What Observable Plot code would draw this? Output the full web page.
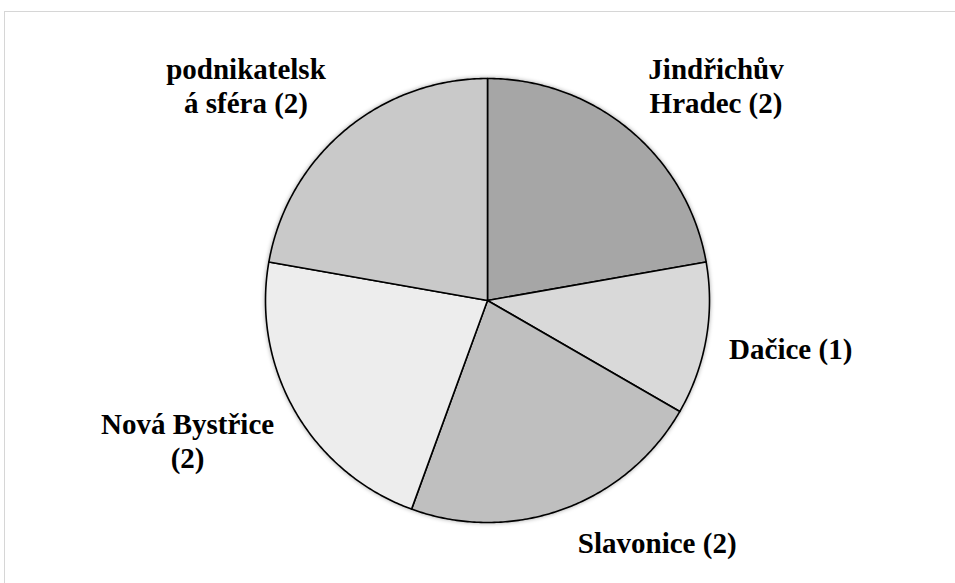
<!DOCTYPE html>
<html>
<head>
<meta charset="utf-8">
<script src="https://cdn.jsdelivr.net/npm/d3@7"></script>
<script src="https://cdn.jsdelivr.net/npm/@observablehq/plot@0.6"></script>
<style>
  html, body { margin: 0; padding: 0; background: #fff; overflow: hidden; }
  #wrap { position: relative; width: 955px; height: 583px; }
  #frame { position: absolute; left: 4px; top: 11px; width: 980px; height: 600px;
           border: 1.5px solid #d6d6d6; box-sizing: border-box; pointer-events: none; }
  #chart svg g[aria-label="line"] { filter: drop-shadow(0px 0px 2px rgba(0,0,0,0.35)); }
  #chart svg text { font-family: "Liberation Serif", "Times New Roman", serif !important; font-weight: bold; }
</style>
</head>
<body>
<div id="wrap"><div id="chart"></div><div id="frame"></div></div>
<script>
// ---- data ----
const categories = ["Jindřichův Hradec", "Dačice", "Slavonice", "Nová Bystřice", "podnikatelská sféra"];
const values = [2, 1, 2, 2, 2];
const labelLines = [
  "Jindřichův\nHradec (2)",
  "Dačice (1)",
  "Slavonice (2)",
  "Nová Bystřice\n(2)",
  "podnikatelsk\ná sféra (2)"
];

// ---- styles / layout ----
const colors = ["#a6a6a6", "#d9d9d9", "#bfbfbf", "#ededed", "#c9c9c9"];
const labelOffsets = [[43, 6], [19, -3], [71, -30], [-50, -5], [-56, 6]]; // px nudges
const cx = 487, cy = 300, R = 222;

const table = categories.map((c, i) => ({category: c, value: values[i], label: labelLines[i]}));
const arcs = d3.pie().sort(null).value(d => d.value)(table);

// slice outlines in data space (unit circle)
const pts = [];
arcs.forEach((a, i) => {
  const n = Math.max(8, Math.ceil((a.endAngle - a.startAngle) / 0.01));
  pts.push({k: i, x: 0, y: 0});
  for (let j = 0; j <= n; j++) {
    const t = a.startAngle + (a.endAngle - a.startAngle) * j / n;
    pts.push({k: i, x: Math.sin(t), y: Math.cos(t)});
  }
  pts.push({k: i, x: 0, y: 0});
});

const labels = arcs.map((a, i) => {
  const m = (a.startAngle + a.endAngle) / 2;
  return {x: 1.3 * Math.sin(m), y: 1.3 * Math.cos(m), text: a.data.label, dx: labelOffsets[i][0], dy: labelOffsets[i][1]};
});

const chart = Plot.plot({
  width: 955,
  height: 583,
  x: {domain: [-1, 1], range: [cx - R, cx + R], axis: null},
  y: {domain: [-1, 1], range: [cy + R, cy - R], axis: null},
  style: {background: "transparent"},
  marks: [
    Plot.line(pts, {x: "x", y: "y", z: "k", fill: d => colors[d.k], stroke: "#000", strokeWidth: 1.6, strokeLinejoin: "round", curve: "linear"}),
    ...labels.map(l => Plot.text([l], {
      x: "x", y: "y", text: "text", dx: l.dx, dy: l.dy,
      fontFamily: "Liberation Serif", fontWeight: "bold",
      fontSize: 29, lineHeight: 1.18, fill: "#000", textAnchor: "middle"
    }))
  ]
});
document.getElementById("chart").appendChild(chart);
</script>
</body>
</html>
